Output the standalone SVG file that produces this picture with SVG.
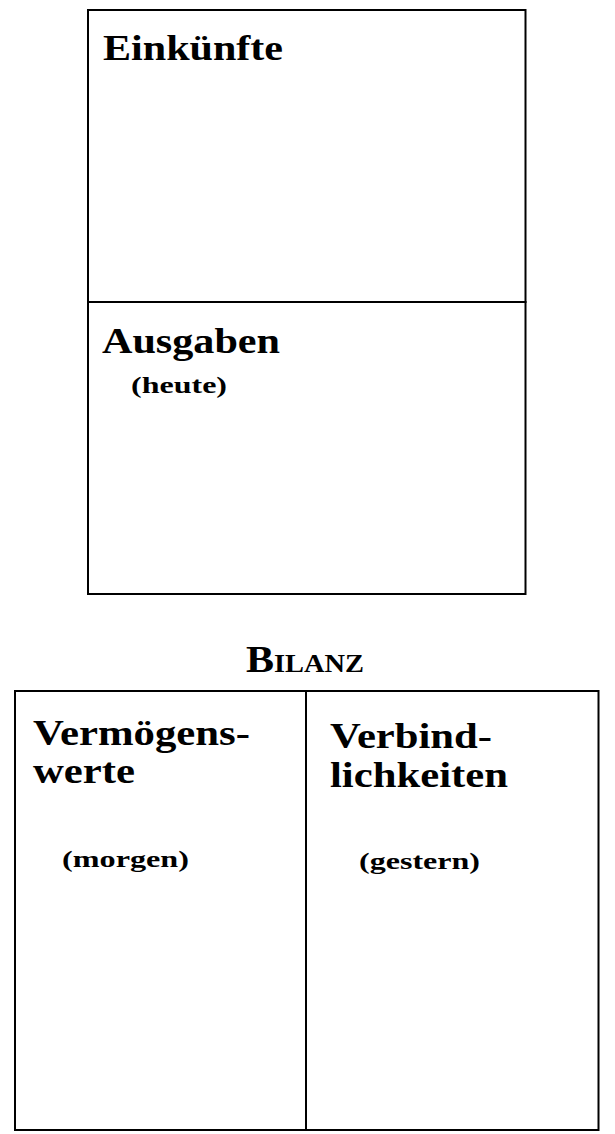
<svg xmlns="http://www.w3.org/2000/svg" width="615" height="1134" viewBox="0 0 615 1134">
<style>
.box{fill:none;stroke:#000;stroke-width:2}
.t{font-family:"Liberation Serif",serif;font-weight:bold;fill:#000}
.h{font-size:35px}
.s{font-size:23px}
</style>
<rect width="615" height="1134" fill="#fff"/>
<g id="einkuenfte">
<rect class="box" x="88" y="10" width="437.5" height="292"/>
<text class="t h" x="103" y="60" textLength="180" lengthAdjust="spacingAndGlyphs">Einkünfte</text>
</g>
<g id="ausgaben">
<rect class="box" x="88" y="302" width="437.5" height="292"/>
<text class="t h" x="102" y="353" textLength="178" lengthAdjust="spacingAndGlyphs">Ausgaben</text>
<text class="t s" x="131" y="393" textLength="96" lengthAdjust="spacingAndGlyphs">(heute)</text>
</g>
<g id="bilanz-title">
<text class="t" x="246" y="672" font-size="37" textLength="118" lengthAdjust="spacingAndGlyphs">B<tspan font-size="25">ILANZ</tspan></text>
</g>
<g id="vermoegenswerte">
<rect class="box" x="15" y="691" width="291" height="439"/>
<text class="t h" x="33" y="745" textLength="217" lengthAdjust="spacingAndGlyphs">Vermögens-</text>
<text class="t h" x="33" y="783" textLength="102" lengthAdjust="spacingAndGlyphs">werte</text>
<text class="t s" x="62" y="867" textLength="127" lengthAdjust="spacingAndGlyphs">(morgen)</text>
</g>
<g id="verbindlichkeiten">
<rect class="box" x="306" y="691" width="292.5" height="439"/>
<text class="t h" x="330" y="748" textLength="162" lengthAdjust="spacingAndGlyphs">Verbind-</text>
<text class="t h" x="330" y="787" textLength="178" lengthAdjust="spacingAndGlyphs">lichkeiten</text>
<text class="t s" x="359" y="869" textLength="121" lengthAdjust="spacingAndGlyphs">(gestern)</text>
</g>
<g id="connectors"></g>
</svg>
